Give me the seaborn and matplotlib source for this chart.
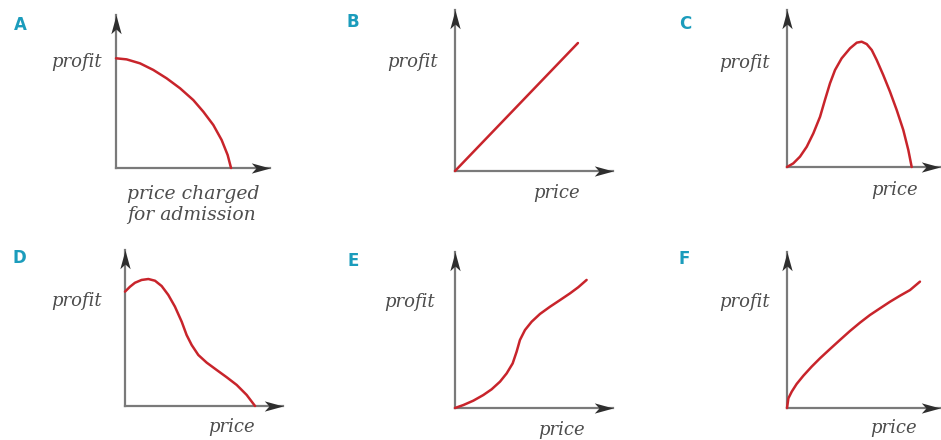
# -*- coding: utf-8 -*-
# six sketch graphs of profit against price (A-F)

import numpy as np
import pandas as pd
import matplotlib
matplotlib.use("Agg")
import matplotlib.pyplot as plt
from matplotlib.path import Path
import seaborn as sns

# data (0-100 units on each axis)
panel_names = ["A", "B", "C", "D", "E", "F"]

a_price = [0, 6.9, 15.6, 24.2, 32.9, 41.6, 50.2, 56.7, 63.2, 68.6, 72.5, 74.7]
a_profit = [71.7, 71, 68.4, 64.1, 58.6, 52.1, 44.4, 36.8, 28.1, 18.3, 8.5, 0]

b_price = [0, 77.8]
b_profit = [0, 79.5]

c_price = [0, 4.1, 8.5, 12.9, 17.2, 21.6, 24.8, 28.1, 31.4, 35.7, 41.2, 45.6,
           48.8, 52.1, 55.4, 58.6, 62.9, 67.3, 71.7, 76, 79.3, 81.5]
c_profit = [0, 2.3, 6.6, 12.9, 21.4, 32, 42.7, 53.3, 61.8, 69.2, 75.6, 79.2,
            79.8, 78.3, 74.5, 68.2, 58.6, 48, 36.3, 23.6, 10.8, 0]

d_price = [0, 3.2, 6.3, 10.5, 14.8, 19, 23.2, 27.4, 31.6, 35.9, 39, 42.2,
           46.4, 51.7, 58, 64.4, 70.7, 77, 82.3]
d_profit = [73.3, 76.5, 79, 80.8, 81.4, 80.3, 76.9, 71.2, 63.7, 54, 45.5, 39.1,
            32.7, 27.8, 23.1, 18.4, 13.5, 7.1, 0]

e_price = [0, 5.3, 11.6, 17.9, 23.2, 28.5, 32.7, 36.5, 39, 41.1, 44.3, 48.5,
           53.8, 60.1, 66.5, 72.8, 78, 83.3]
e_profit = [0, 1.9, 4.7, 8.3, 12, 16.9, 22.2, 28.6, 36.1, 43.6, 50, 55.3,
            60.3, 64.9, 69.2, 73.5, 77.4, 82.1]

f_price = [0, 0.9, 3.1, 6.3, 10.7, 16.1, 21.6, 28.1, 34.6, 41.2, 47.7, 54.2,
           60.8, 67.3, 73.9, 80.4, 86.9]
f_profit = [0, 6.2, 10.5, 15.4, 20.7, 26.5, 31.9, 37.8, 43.6, 49.4, 54.7, 59.6,
            63.9, 68.1, 72, 75.6, 81]

y_label = "profit"
x_labels = ["price charged\nfor admission", "price", "price", "price", "price", "price"]

curves = [(a_price, a_profit), (b_price, b_profit), (c_price, c_profit),
          (d_price, d_profit), (e_price, e_profit), (f_price, f_profit)]

# layout in pixels: origin x, origin y, x-arrow tip, y-arrow tip
W, H = 941, 440
boxes = [(116, 168, 270, 15), (455, 171, 613, 10), (787, 167, 940, 10),
         (125, 406, 283, 250), (455, 408, 613, 252), (787, 408, 940, 252)]
letter_pos = [(20, 25), (353, 22), (685, 24), (19, 258), (353, 261), (684, 259)]
profit_pos = [(-0.09, 0.69), (-0.11, 0.68), (-0.11, 0.66),
              (-0.146, 0.67), (-0.127, 0.68), (-0.11, 0.68)]
price_pos = [(0.07, -0.11), (0.79, -0.137), (0.856, -0.146),
             (0.82, -0.135), (0.82, -0.14), (0.85, -0.13)]

RED = "#c8242b"
AXIS = "#7a7a7a"
HEAD = "#2e2e2e"
TEXT = "#4d4d4d"
LETTER = "#1b9cbc"

sns.set_theme(style="white")
plt.rcParams["font.family"] = ["DejaVu Sans"]

# concave arrowheads
right_head = Path([(0, 0), (-2, 0.55), (-1.5, 0), (-2, -0.55), (0, 0)],
                  [Path.MOVETO, Path.LINETO, Path.LINETO, Path.LINETO, Path.CLOSEPOLY])
up_head = Path([(0, 0), (-0.55, -2), (0, -1.5), (0.55, -2), (0, 0)],
               [Path.MOVETO, Path.LINETO, Path.LINETO, Path.LINETO, Path.CLOSEPOLY])

fig = plt.figure(figsize=(W / 100, H / 100), dpi=100)
fig.patch.set_facecolor("white")

for i, (ox, oy, tx, ty) in enumerate(boxes):
    ax = fig.add_axes([ox / W, 1 - oy / H, (tx - ox) / W, (oy - ty) / H])
    ax.set_facecolor("none")
    px, py = curves[i]
    df = pd.DataFrame({"price": px, "profit": py})
    sns.lineplot(data=df, x="price", y="profit", sort=False, estimator=None,
                 color=RED, lw=1.8, ax=ax, clip_on=False, zorder=3)
    ax.set_xlim(0, 100)
    ax.set_ylim(0, 100)
    ax.set_xticks([])
    ax.set_yticks([])
    ax.set_xlabel("")
    ax.set_ylabel("")
    sns.despine(ax=ax)
    for s in ["left", "bottom"]:
        ax.spines[s].set_color(AXIS)
        ax.spines[s].set_linewidth(1.6)
    ax.plot([1], [0], marker=right_head, ms=27, color=HEAD, mew=0,
            transform=ax.transAxes, clip_on=False, zorder=4)
    ax.plot([0], [1], marker=up_head, ms=27, color=HEAD, mew=0,
            transform=ax.transAxes, clip_on=False, zorder=4)

    # texts
    x0, y0 = profit_pos[i]
    ax.text(x0, y0, y_label, transform=ax.transAxes, ha="right", va="center",
            family="DejaVu Serif", style="italic", fontsize=13, color=TEXT)
    x1, y1 = price_pos[i]
    if i == 0:
        ax.text(x1, y1, x_labels[i], transform=ax.transAxes, ha="left", va="top",
                family="DejaVu Serif", style="italic", fontsize=13.5, color=TEXT,
                linespacing=1.2)
    else:
        ax.text(x1, y1, x_labels[i], transform=ax.transAxes, ha="right", va="center",
                family="DejaVu Serif", style="italic", fontsize=13, color=TEXT)
    lx, ly = letter_pos[i]
    fig.text(lx / W, 1 - ly / H, panel_names[i], ha="center", va="center",
             fontsize=12, fontweight="bold", color=LETTER)

fig.savefig("out.png", dpi=100)
